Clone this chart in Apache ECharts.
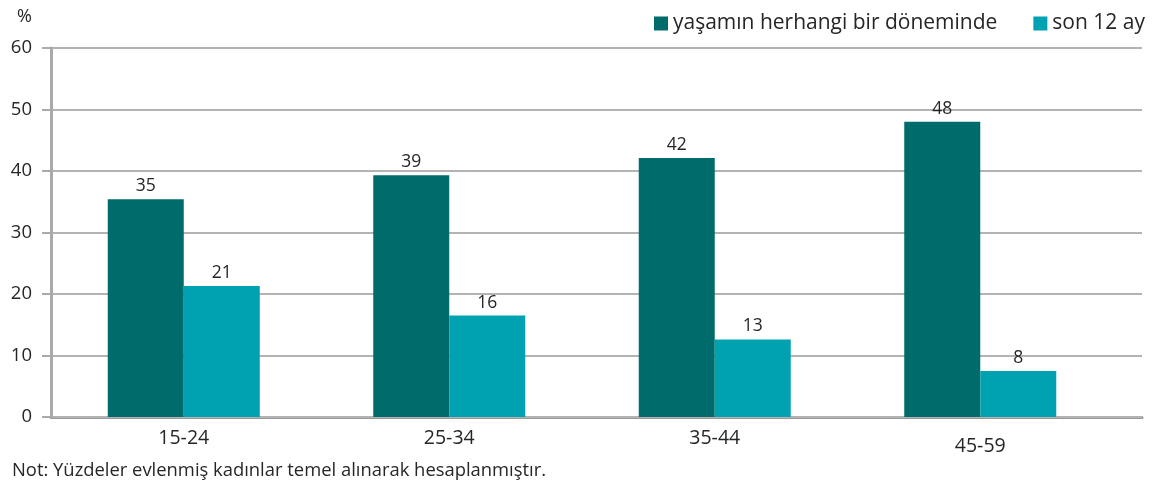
<!DOCTYPE html>
<html>
<head>
<meta charset="utf-8">
<script src="https://cdn.jsdelivr.net/npm/echarts@6/dist/echarts.min.js"></script>
<style>
  html, body { margin: 0; padding: 0; background: #fff; }
  #chart { width: 1162px; height: 483px; }
</style>
</head>
<body>
<div id="chart"></div>
<script>
// yaş grupları
const categories = ['15-24', '25-34', '35-44', '45-59']
const lifetime = [35.4, 39.3, 42.1, 48.0]
const lifetimeLabels = ['35', '39', '42', '48']
const last12 = [21.3, 16.5, 12.6, 7.5]
const last12Labels = ['21', '16', '13', '8']
const yTicks = [0, 10, 20, 30, 40, 50, 60]

const font = '"Open Sans", sans-serif'
const ink = '#262626'
let mychart = echarts.init(document.getElementById('chart'))

// son etiket (45-59) biraz aşağıda duruyor
let xData = categories.map((c, i) => i == 3 ? { value: c, textStyle: { padding: [8, 0, 0, 0] } } : c)

let option = {
  animation: false,
  textStyle: { fontFamily: font },
  title: [
    { text: '%', left: 12, top: 3, textStyle: { fontSize: 18, fontWeight: 'normal', color: ink, fontFamily: font } },
    { text: 'Not: Yüzdeler evlenmiş kadınlar temel alınarak hesaplanmıştır.', left: 7, top: 457,
      textStyle: { fontSize: 18.4, fontWeight: 'normal', color: ink, fontFamily: font } }
  ],
  legend: {
    right: 12,
    top: 8,
    itemWidth: 14,
    itemHeight: 14,
    itemGap: 36,
    icon: 'rect',
    textStyle: { fontSize: 21, color: ink, fontFamily: font }
  },
  // grid 0: eksen çizgileri ve yatay kılavuzlar (tam genişlik)
  // grid 1: çubuklar ve kategori etiketleri
  grid: [
    { left: 51, right: 20, top: 48, bottom: 66 },
    { left: 51, right: 49, top: 48, bottom: 66 }
  ],
  xAxis: [
    {
      type: 'category',
      gridIndex: 0,
      data: categories,
      axisLine: { lineStyle: { color: '#999', width: 3 } },
      axisTick: { show: false },
      axisLabel: { show: false }
    },
    {
      type: 'category',
      gridIndex: 1,
      data: xData,
      axisLine: { show: false },
      axisTick: { show: false },
      axisLabel: { fontSize: 19.5, color: ink, margin: 11 }
    }
  ],
  yAxis: [
    {
      type: 'value',
      gridIndex: 0,
      min: 0,
      max: yTicks[yTicks.length - 1],
      interval: 10,
      axisLine: { show: true, lineStyle: { color: '#aaa', width: 3 } },
      axisTick: { show: true, length: 9, lineStyle: { color: '#aaa', width: 2 } },
      axisLabel: { fontSize: 18.5, color: ink, margin: 19 },
      splitLine: { lineStyle: { color: '#b3b3b3', width: 2 } },
      z: 1
    },
    {
      type: 'value',
      gridIndex: 1,
      min: 0,
      max: yTicks[yTicks.length - 1],
      interval: 10,
      show: false
    }
  ],
  series: [
    {
      name: 'yaşamın herhangi bir döneminde',
      type: 'bar',
      xAxisIndex: 1,
      yAxisIndex: 1,
      data: lifetime,
      barWidth: 76,
      barGap: '0%',
      itemStyle: { color: '#006b6b' },
      label: {
        show: true, position: 'top', fontSize: 17.5, color: ink, distance: 4,
        formatter: p => lifetimeLabels[p.dataIndex]
      }
    },
    {
      name: 'son 12 ay',
      type: 'bar',
      xAxisIndex: 1,
      yAxisIndex: 1,
      data: last12,
      barWidth: 76,
      barGap: '0%',
      itemStyle: { color: '#00a1b0' },
      label: {
        show: true, position: 'top', fontSize: 17.5, color: ink, distance: 4,
        formatter: p => last12Labels[p.dataIndex]
      }
    }
  ]
}
mychart.setOption(option)
</script>
</body>
</html>
